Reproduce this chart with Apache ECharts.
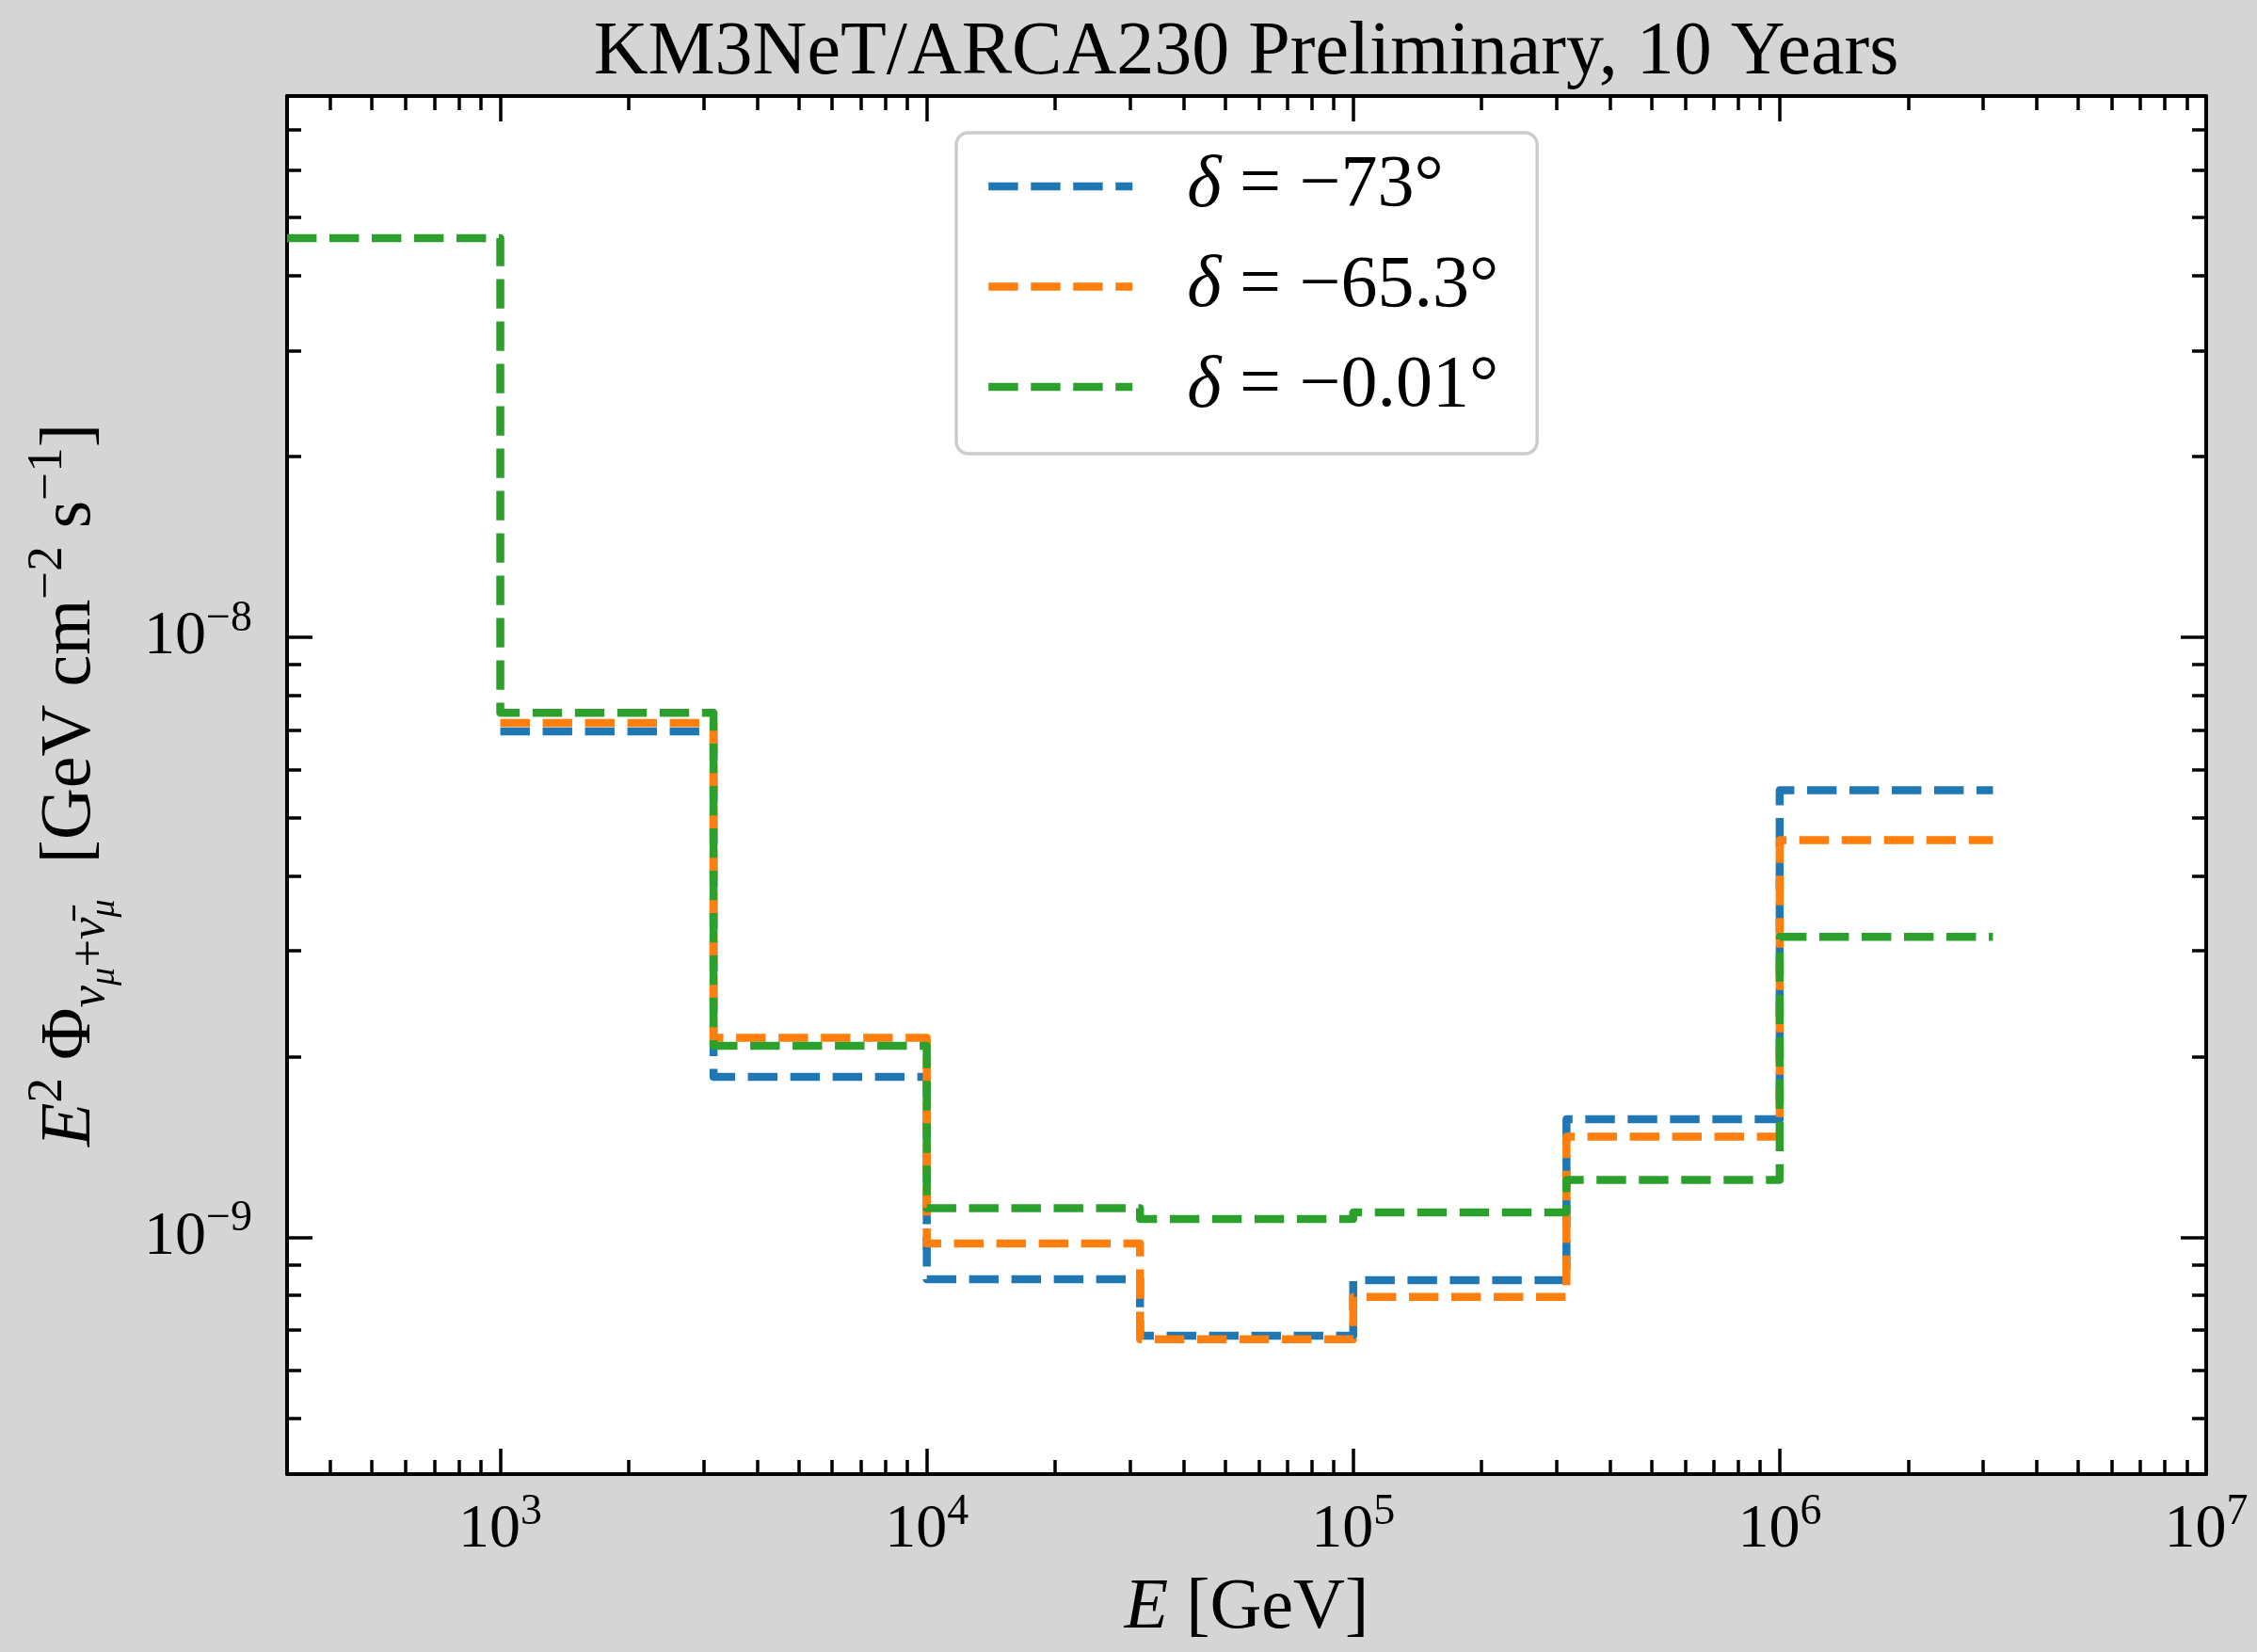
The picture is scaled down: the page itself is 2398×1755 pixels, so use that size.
<!DOCTYPE html>
<html>
<head>
<meta charset="utf-8">
<script src="https://cdn.jsdelivr.net/npm/echarts@6/dist/echarts.min.js"></script>
<style>
  html, body { margin: 0; padding: 0; background: #d5d5d5; }
  #chart { width: 2398px; height: 1755px; }
</style>
</head>
<body>
<div id="chart"></div>
<script>
// Half-decade energy bin edges [GeV]
const binEdges = [316.23, 1000, 3162.3, 10000, 31623, 100000, 316228, 1000000, 3162278];

// E^2 * flux sensitivity per bin [GeV cm^-2 s^-1]; null = no bin
const fluxDecMinus73 = [null, 6.96e-9, 1.85e-9, 8.51e-10, 6.85e-10, 8.48e-10, 1.573e-9, 5.555e-9];
const fluxDecMinus65 = [null, 7.19e-9, 2.149e-9, 9.76e-10, 6.76e-10, 7.95e-10, 1.471e-9, 4.587e-9];
const fluxDecMinus001 = [4.62e-8, 7.48e-9, 2.085e-9, 1.118e-9, 1.072e-9, 1.100e-9, 1.246e-9, 3.166e-9];

const seriesNames = ['δ = −73°', 'δ = −65.3°', 'δ = −0.01°'];
const seriesColors = ['#1f77b4', '#ff7f0e', '#2ca02c'];

// Axis ranges and labelled ticks
const xRange = [316.23, 1e7];
const yRange = [4.03e-10, 7.97e-8];
const xMajorTicks = [1e3, 1e4, 1e5, 1e6, 1e7];
const yMajorTicks = [1e-9, 1e-8];

const serif = "'Liberation Serif', 'DejaVu Serif', serif";

// Step outline: each bin starts at its lower edge, last value held to the upper edge
function stepPoints(values) {
  const pts = [];
  values.forEach((v, i) => { if (v != null) pts.push([binEdges[i], v]); });
  pts.push([binEdges[values.length], values[values.length - 1]]);
  return pts;
}

// Unlabelled log ticks at 2..9 x 10^d inside the given range
function minorTicks(loExp, hiExp, range) {
  const out = [];
  for (let d = loExp; d < hiExp; d++) {
    for (let m = 2; m <= 9; m++) {
      const v = m * Math.pow(10, d);
      if (v > range[0] && v < range[1]) out.push(v);
    }
  }
  return out;
}
const xMinorTicks = minorTicks(2, 7, xRange);
const yMinorTicks = minorTicks(-10, -7, yRange);

function powerLabel(value) {
  const e = Math.round(Math.log10(value));
  return '{b|10}{s|' + String(e).replace('-', '−') + '}';
}

const tickRich = {
  b: { fontFamily: serif, fontSize: 66, color: '#000' },
  s: { fontFamily: serif, fontSize: 46, color: '#000', padding: [0, 0, 38, 0] }
};

function axisDef(kind, gridIndex, position, ticks, tickLen, opts) {
  const range = kind === 'x' ? xRange : yRange;
  return Object.assign({
    type: 'log',
    gridIndex: gridIndex,
    position: position,
    min: range[0],
    max: range[1],
    axisLine: { show: opts.line, onZero: false, lineStyle: { color: '#000', width: 4 } },
    axisTick: { show: true, inside: true, length: tickLen, customValues: ticks,
                lineStyle: { color: '#000', width: 3.5 } },
    minorTick: { show: false },
    splitLine: { show: false },
    axisLabel: opts.labels ? {
      show: true,
      customValues: ticks,
      formatter: powerLabel,
      margin: kind === 'x' ? 27 : 37,
      lineHeight: 66,
      fontFamily: serif,
      fontSize: 66,
      color: '#000',
      rich: tickRich
    } : { show: false }
  }, opts.extra || {});
}

const xAxes = [
  axisDef('x', 0, 'bottom', xMajorTicks, 27, {
    line: true, labels: true,
    extra: {
      name: '{i|E} [GeV]',
      nameLocation: 'middle',
      nameGap: 105,
      nameTextStyle: {
        fontFamily: serif, fontSize: 76, lineHeight: 76, color: '#000',
        rich: { i: { fontFamily: serif, fontSize: 76, fontStyle: 'italic', color: '#000' } }
      }
    }
  }),
  axisDef('x', 0, 'top', xMajorTicks, 27, { line: true, labels: false }),
  axisDef('x', 1, 'bottom', xMinorTicks, 15, { line: false, labels: false }),
  axisDef('x', 1, 'top', xMinorTicks, 15, { line: false, labels: false })
];

const yNameRich = {
  i:   { fontFamily: serif, fontSize: 76, fontStyle: 'italic', color: '#000' },
  r:   { fontFamily: serif, fontSize: 76, color: '#000' },
  sp:  { fontFamily: serif, fontSize: 53, color: '#000', padding: [0, 0, 48, 0] },
  sbi: { fontFamily: serif, fontSize: 53, fontStyle: 'italic', color: '#000', padding: [42, 0, 0, 0] },
  sbr: { fontFamily: serif, fontSize: 53, color: '#000', padding: [42, 0, 0, 0] },
  ssi: { fontFamily: serif, fontSize: 38, fontStyle: 'italic', color: '#000', padding: [72, 0, 0, 0] }
};

const yAxes = [
  axisDef('y', 0, 'left', yMajorTicks, 27, {
    line: true, labels: true,
    extra: {
      name: '{i|E}{sp|2}{r| Φ}{sbi|ν}{ssi|μ}{sbr|+}{sbi|ν̄}{ssi|μ}{r|  [GeV cm}{sp|−2}{r| s}{sp|−1}{r|]}',
      nameLocation: 'middle',
      nameRotate: 90,
      nameGap: 192,
      nameTextStyle: { fontFamily: serif, fontSize: 76, lineHeight: 76, color: '#000', rich: yNameRich }
    }
  }),
  axisDef('y', 0, 'right', yMajorTicks, 27, { line: true, labels: false }),
  axisDef('y', 1, 'left', yMinorTicks, 15, { line: false, labels: false }),
  axisDef('y', 1, 'right', yMinorTicks, 15, { line: false, labels: false })
];

const fluxSets = [fluxDecMinus73, fluxDecMinus65, fluxDecMinus001];
const series = fluxSets.map((vals, k) => ({
  type: 'line',
  name: seriesNames[k],
  xAxisIndex: 0,
  yAxisIndex: 0,
  data: stepPoints(vals),
  step: 'end',
  symbol: 'none',
  clip: true,
  z: 2 + k,
  lineStyle: { color: seriesColors[k], width: 8.5, type: [31.4, 13.6], join: 'round', cap: 'butt' },
  itemStyle: { color: seriesColors[k] }
}));

const chart = echarts.init(document.getElementById('chart'), null, { renderer: 'canvas', width: 2398, height: 1755 });
chart.setOption({
  animation: false,
  backgroundColor: '#d5d5d5',
  title: {
    text: 'KM3NeT/ARCA230 Preliminary, 10 Years',
    left: 1324,
    top: 17,
    textAlign: 'center',
    padding: 0,
    textStyle: { fontFamily: serif, fontSize: 80, fontWeight: 'normal', color: '#000' }
  },
  grid: [
    { left: 305, right: 54, top: 102, bottom: 189, show: true, backgroundColor: '#ffffff', borderWidth: 0, outerBoundsMode: 'none' },
    { left: 305, right: 54, top: 102, bottom: 189, show: false, outerBoundsMode: 'none' }
  ],
  legend: {
    data: seriesNames,
    orient: 'vertical',
    left: 1016,
    top: 141,
    padding: [17, 41, 31, 30],
    itemWidth: 153,
    itemHeight: 40,
    itemGap: 26.5,
    selectedMode: false,
    backgroundColor: '#ffffff',
    borderColor: '#cccccc',
    borderWidth: 3.5,
    borderRadius: 13,
    lineStyle: { width: 8.5 },
    itemStyle: { opacity: 0 },
    formatter: name => '{g| }{d|' + name.charAt(0) + '}' + name.slice(1),
    textStyle: {
      fontFamily: serif, fontSize: 78, lineHeight: 80, color: '#000',
      rich: {
        g: { width: 53, fontSize: 78 },
        d: { fontFamily: serif, fontSize: 78, fontStyle: 'italic', color: '#000' }
      }
    }
  },
  xAxis: xAxes,
  yAxis: yAxes,
  series: series
});
</script>
</body>
</html>
